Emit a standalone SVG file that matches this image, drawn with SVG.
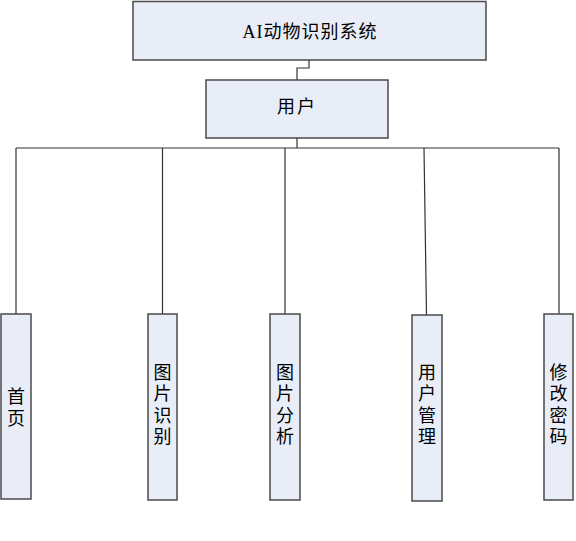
<svg xmlns="http://www.w3.org/2000/svg" width="576" height="541" viewBox="0 0 576 541">
<style>
.box{fill:#e8edf7;stroke:#4a4a4a;stroke-width:1.5}
.ln{fill:none;stroke:#333;stroke-width:1.2}
.t{font-family:"Noto Sans CJK SC","Liberation Serif",serif;font-size:18px;fill:#000;text-anchor:middle}
.v{font-family:"Noto Sans CJK SC",sans-serif;font-size:18px;fill:#000;text-anchor:middle;writing-mode:vertical-rl;letter-spacing:3.5px}
.tt{font-family:"Liberation Serif","Noto Sans CJK SC",serif;font-size:18px;fill:#000;text-anchor:middle;letter-spacing:1px}
</style>
<rect width="576" height="541" fill="#fff"/>
<g id="connectors">
<polyline class="ln" points="309,60 309,68 297,68 297,80"/>
<line class="ln" x1="297" y1="138" x2="297" y2="148"/>
<line class="ln" x1="16" y1="148" x2="559" y2="148"/>
<line class="ln" x1="16" y1="148" x2="16" y2="314"/>
<line class="ln" x1="162.5" y1="148" x2="162.5" y2="314"/>
<line class="ln" x1="285" y1="148" x2="285" y2="314"/>
<line class="ln" x1="424" y1="148" x2="426.5" y2="315"/>
<line class="ln" x1="559" y1="148" x2="559" y2="314"/>
</g>
<g id="node-system">
<rect class="box" x="133" y="1.5" width="353" height="58.5"/>
<text class="tt" x="310" y="38">AI动物识别系统</text>
</g>
<g id="node-user">
<rect class="box" x="206" y="80" width="182" height="58"/>
<text class="t" x="297" y="113" letter-spacing="2">用户</text>
</g>
<g id="node-home">
<rect class="box" x="1" y="314" width="30" height="185"/>
<text class="v" x="16" y="409">首页</text>
</g>
<g id="node-recog">
<rect class="box" x="148" y="314" width="29" height="186"/>
<text class="v" x="162.5" y="406">图片识别</text>
</g>
<g id="node-analysis">
<rect class="box" x="270" y="314" width="30" height="186"/>
<text class="v" x="285" y="406">图片分析</text>
</g>
<g id="node-usermgmt">
<rect class="box" x="412" y="315" width="30" height="186"/>
<text class="v" x="427" y="406">用户管理</text>
</g>
<g id="node-password">
<rect class="box" x="544" y="314" width="29" height="186"/>
<text class="v" x="558.5" y="406">修改密码</text>
</g>
</svg>
